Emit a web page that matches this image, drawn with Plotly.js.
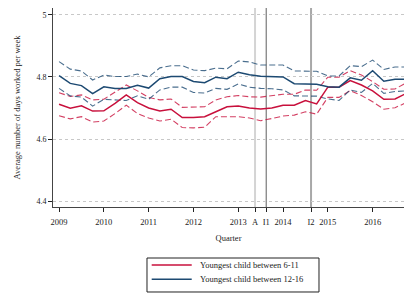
<!DOCTYPE html>
<html>
<head>
<meta charset="utf-8">
<script src="https://cdn.plot.ly/plotly-3.0.1.min.js"></script>
<style>html,body{margin:0;padding:0;background:#fff;}#chart{width:404px;height:293px;}</style>
</head>
<body>
<div id="chart"></div>
<script>
// Quarter index: 0 = 2009Q1
const quarters = [0,1,2,3,4,5,6,7,8,9,10,11,12,13,14,15,16,17,18,19,20,21,22,23,24,25,26,27,28,29,30,31];

const red_mean  = [4.712,4.699,4.707,4.690,4.691,4.715,4.742,4.717,4.700,4.690,4.696,4.669,4.669,4.672,4.688,4.704,4.706,4.700,4.697,4.700,4.709,4.709,4.724,4.713,4.767,4.767,4.788,4.774,4.755,4.728,4.729,4.747];
const red_upper = [4.749,4.737,4.742,4.726,4.728,4.751,4.774,4.755,4.734,4.726,4.729,4.702,4.702,4.704,4.726,4.736,4.740,4.736,4.735,4.740,4.744,4.744,4.758,4.757,4.799,4.799,4.820,4.806,4.785,4.760,4.761,4.781];
const red_lower = [4.675,4.665,4.672,4.655,4.658,4.682,4.709,4.682,4.668,4.658,4.664,4.637,4.636,4.638,4.672,4.671,4.672,4.668,4.659,4.666,4.674,4.677,4.688,4.680,4.734,4.734,4.756,4.740,4.720,4.696,4.701,4.717];

const blue_mean  = [4.804,4.779,4.772,4.746,4.768,4.763,4.763,4.773,4.764,4.794,4.801,4.801,4.785,4.781,4.799,4.794,4.815,4.807,4.802,4.800,4.800,4.778,4.777,4.776,4.768,4.767,4.797,4.789,4.820,4.786,4.792,4.792];
const blue_upper = [4.849,4.825,4.819,4.790,4.806,4.801,4.801,4.809,4.800,4.829,4.836,4.836,4.822,4.820,4.828,4.826,4.851,4.848,4.838,4.838,4.838,4.819,4.818,4.818,4.803,4.803,4.836,4.833,4.854,4.824,4.832,4.832];
const blue_lower = [4.763,4.739,4.735,4.706,4.728,4.726,4.724,4.739,4.728,4.758,4.767,4.767,4.750,4.748,4.763,4.760,4.777,4.767,4.763,4.762,4.758,4.739,4.738,4.738,4.729,4.724,4.758,4.750,4.779,4.747,4.753,4.755];

const tickPositions = [0,4,8,12,16,17.5,18.5,20,22.5,24,28];
const tickLabels = ["2009","2010","2011","2012","2013","A","I1","2014","I2","2015","2016"];

const eventPositions = [17.5,18.5,22.5];
const eventColors = ["#d4d4d4","#7a7a7a","#a8a8a8"];
const eventWidths = [2,1.2,2];

const seriesNames = ["Youngest child between 6-11","Youngest child between 12-16"];

const RED = "#c8103c";
const BLUE = "#1d4a72";
const FONT = "Liberation Serif, DejaVu Serif, serif";

function band(y, color) {
  return {x: quarters, y: y, type: "scatter", mode: "lines", showlegend: false, hoverinfo: "skip",
    line: {color: color, width: 1.1, dash: "6px,3px"}, opacity: 0.8};
}

const traces = [
  band(red_upper, RED),
  band(red_lower, RED),
  band(blue_upper, BLUE),
  band(blue_lower, BLUE),
  {x: quarters, y: red_mean, type: "scatter", mode: "lines", name: seriesNames[0], showlegend: false,
   line: {color: RED, width: 1.5}},
  {x: quarters, y: blue_mean, type: "scatter", mode: "lines", name: seriesNames[1], showlegend: false,
   line: {color: BLUE, width: 1.5}}
];

const shapes = eventPositions.map((p, i) => ({
  type: "line", xref: "x", yref: "paper", x0: p, x1: p, y0: 0, y1: 1,
  line: {color: eventColors[i], width: eventWidths[i]}, layer: "below"
}));

// Hand-built legend box (paper coordinates)
const legendColors = [RED, BLUE];
const legendRows = [-0.2915, -0.3633];
shapes.push({type: "rect", xref: "paper", yref: "paper", x0: 0.2678, x1: 0.7578, y0: -0.4271, y1: -0.2563,
  line: {color: "#222", width: 1}, fillcolor: "rgba(0,0,0,0)"});
const annotations = [];
legendRows.forEach((yy, i) => {
  shapes.push({type: "line", xref: "paper", yref: "paper", x0: 0.2812, x1: 0.3952, y0: yy, y1: yy,
    line: {color: legendColors[i], width: 1.5}});
  annotations.push({xref: "paper", yref: "paper", x: 0.4131, y: yy, xanchor: "left", yanchor: "middle",
    text: seriesNames[i], showarrow: false, font: {family: FONT, size: 8.5, color: "#222"}});
});

const layout = {
  width: 404, height: 293,
  margin: {l: 53, r: 0, t: 8, b: 86, autoexpand: false},
  paper_bgcolor: "#fff", plot_bgcolor: "#fff",
  font: {family: FONT, size: 8.5, color: "#222"},
  showlegend: false,
  xaxis: {
    range: [-0.54, 30.8], tickmode: "array", tickvals: tickPositions, ticktext: tickLabels,
    showgrid: false, zeroline: false, showline: true, linecolor: "#444", linewidth: 1,
    ticks: "outside", ticklen: 4, tickcolor: "#222", tickwidth: 1, ticklabelstandoff: 3,
    tickfont: {family: FONT, size: 8.5, color: "#222"},
    title: {text: "Quarter", font: {family: FONT, size: 8.5, color: "#222"}, standoff: 8}
  },
  yaxis: {
    range: [4.3816, 5.0215], tickmode: "array", tickvals: [4.4,4.6,4.8,5], ticktext: ["4.4","4.6","4.8","5"],
    showgrid: true, gridcolor: "#c8c8c8", griddash: "dot", gridwidth: 1,
    zeroline: false, showline: true, linecolor: "#444", linewidth: 1,
    ticks: "outside", ticklen: 4, tickcolor: "#222", tickwidth: 1,
    tickfont: {family: FONT, size: 8, color: "#222"},
    title: {text: "Average number of days worked per week", font: {family: FONT, size: 8.5, color: "#222"}, standoff: 14}
  },
  shapes: shapes,
  annotations: annotations
};

Plotly.newPlot("chart", traces, layout, {displayModeBar: false, staticPlot: true});
</script>
</body>
</html>
